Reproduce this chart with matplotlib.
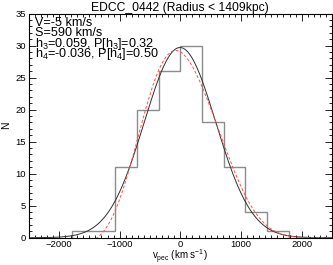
import numpy as np
import matplotlib
matplotlib.use("Agg")
import matplotlib.pyplot as plt
from matplotlib.ticker import MultipleLocator

plt.rcParams["font.family"] = ["Liberation Sans", "DejaVu Sans"]
plt.rcParams["mathtext.fontset"] = "custom"
plt.rcParams["mathtext.rm"] = "Liberation Sans"
plt.rcParams["mathtext.it"] = "Liberation Sans"

# histogram of peculiar velocities
bin_edges = [-1785, -1428, -1071, -714, -357, 0, 357, 714, 1071, 1428, 1785]
counts = [1, 1, 11, 20, 26, 30, 18, 11, 4, 1]

# fit parameters
V = -5.0
S = 590.0
h3 = 0.059
h4 = -0.036

n_tot = sum(counts)
bw = bin_edges[1] - bin_edges[0]
amp = n_tot * bw / (np.sqrt(2 * np.pi) * S)

v = np.linspace(-2500, 2500, 1000)
w = (v - V) / S
gauss = amp * np.exp(-0.5 * w ** 2)
H3 = (2 * np.sqrt(2) * w ** 3 - 3 * np.sqrt(2) * w) / np.sqrt(6)
H4 = (4 * w ** 4 - 12 * w ** 2 + 3) / np.sqrt(24)
gh = gauss * (1 + h3 * H3 + h4 * H4)

fig = plt.figure(figsize=(3.33, 2.65), dpi=100)
ax = fig.add_axes([0.086, 0.103, 0.911, 0.846])

ax.stairs(counts, bin_edges, color="#8c8c8c", lw=1.0)
ax.plot(v, gauss, color="#303030", lw=0.7)
ax.plot(v, gh, color="#ff5050", lw=0.7, ls=(0, (3, 2)))

ax.set_xlim(-2500, 2500)
ax.set_ylim(0, 35)
ax.xaxis.set_major_locator(MultipleLocator(1000))
ax.xaxis.set_minor_locator(MultipleLocator(100))
ax.yaxis.set_major_locator(MultipleLocator(5))
ax.yaxis.set_minor_locator(MultipleLocator(1))
ax.tick_params(which="both", direction="in", top=True, right=True,
               labelsize=6.8, width=0.6, pad=2)
ax.tick_params(axis="x", pad=1.5)
ax.tick_params(which="major", length=5)
ax.tick_params(which="minor", length=2.5)
for sp in ax.spines.values():
    sp.set_linewidth(0.8)

ax.set_xlabel(r"v$_{\mathregular{pec}}$ (km s$^{\mathregular{-1}}$)", fontsize=7, labelpad=-0.5)
ax.set_ylabel("N", fontsize=7.5, labelpad=3)
ax.set_title("EDCC_0442 (Radius < 1409kpc)", fontsize=8.7, pad=1.5)

lines = [
    "V=-5 km/s",
    "S=590 km/s",
    r"h$_3$=0.059, P[h$_3$]=0.32",
    r"h$_4$=-0.036, P[h$_4$]=0.50",
]
ax_h = 0.846 * 265
for i, s in enumerate(lines):
    base = 12.2 + 10.5 * i
    ax.text(0.021, 1 - base / ax_h, s, transform=ax.transAxes, fontsize=9.1,
            va="baseline", ha="left")

fig.savefig("out.png", dpi=100)
